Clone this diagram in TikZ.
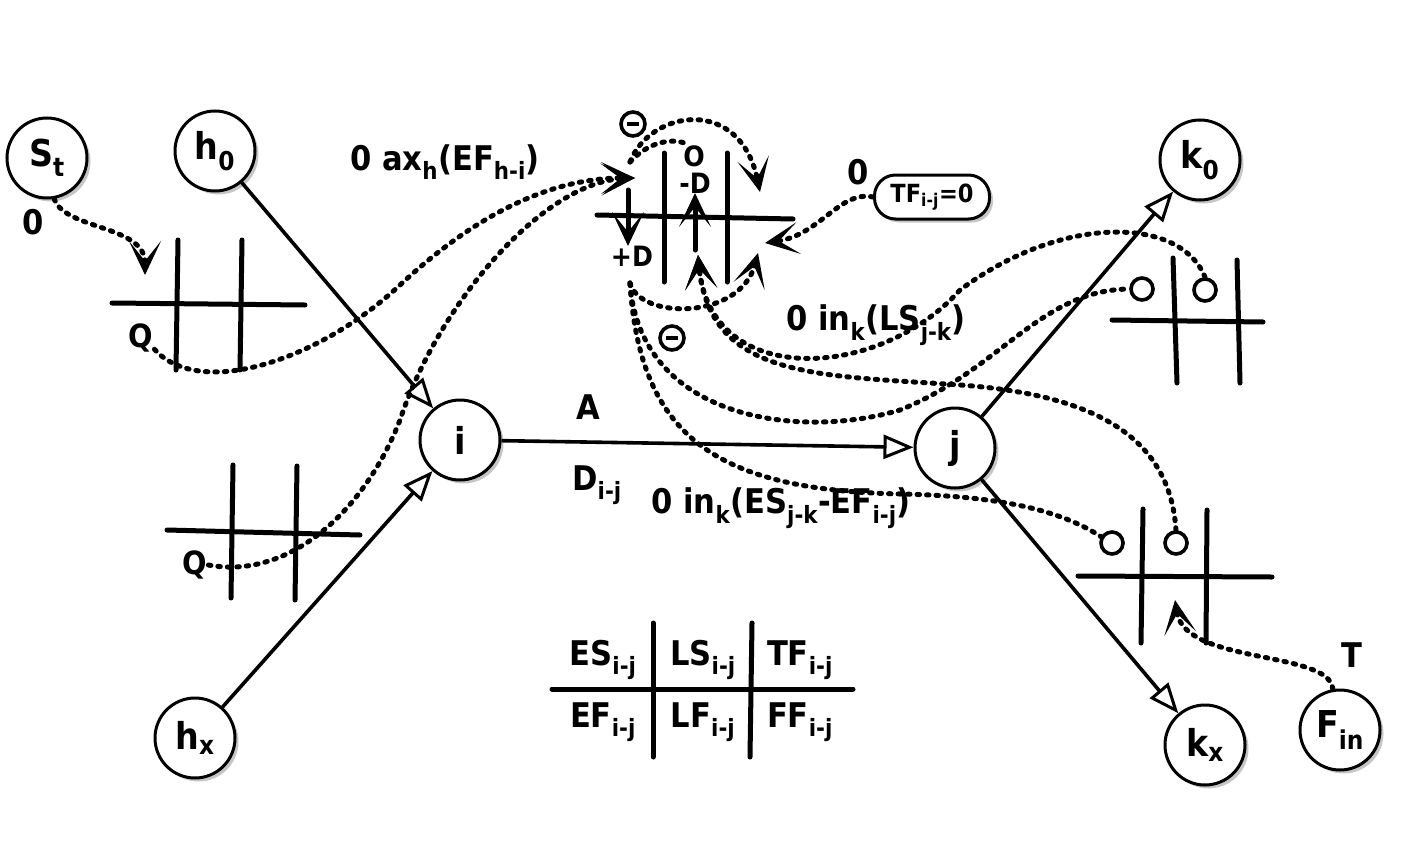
\documentclass[tikz,border=0pt]{standalone}
\usepackage{fontspec}
\setmainfont{DejaVu Sans Condensed}[BoldFont={DejaVu Sans Condensed Bold}]
\usepackage{tikz}
\usetikzlibrary{arrows.meta,shadows}

\newcommand{\sub}[1]{\textsubscript{#1}}

\begin{document}
\begin{tikzpicture}[x=1pt, y=-1pt,
  vertex/.style={circle, draw, line width=3pt, fill=white, minimum size=80pt, inner sep=0pt,
    drop shadow={shadow xshift=3.5pt, shadow yshift=-3.5pt, fill=gray!45, opacity=1},
    font=\fontsize{37}{40}\selectfont\bfseries},
  edgeline/.style={line width=3.6pt, -{Triangle[open, length=30pt, width=24pt, line width=3pt]}},
  flowline/.style={line width=5pt, dash pattern=on 2.5pt off 7pt, line cap=round},
  barbtip/.style={-{Stealth[open, length=34pt, width=32pt, inset=20pt, line width=3.4pt]}},
  tabline/.style={line width=5pt, line cap=round},
  txt/.style={font=\fontsize{34}{38}\selectfont\bfseries, inner sep=1pt},
  cellfont/.style={font=\fontsize{28}{32}\selectfont\bfseries, inner sep=1pt},
  slot/.style={circle, draw, line width=3.6pt, minimum size=22pt, inner sep=0pt},
  negsign/.style={circle, draw, line width=3.6pt, minimum size=24pt, inner sep=0pt,
    path picture={\draw[line width=4.5pt] (path picture bounding box.center) +(-6pt,0) -- +(6pt,0);}}
]
\useasboundingbox (0,0) rectangle (1418,843);

% Activities
\node[vertex] (St) at (47,158) {S\sub{t}};
\node[vertex] (h0) at (215,151) {h\sub{0}};
\node[vertex] (hx) at (195,738) {h\sub{x}};
\node[vertex] (i) at (460,440) {i};
\node[vertex] (j) at (955,448) {j};
\node[vertex] (k0) at (1200,160) {k\sub{0}};
\node[vertex] (kx) at (1205,745) {k\sub{x}};
\node[vertex] (Fin) at (1340,730) {F\sub{in}};

% Links
\draw[edgeline] (h0) -- (i);
\draw[edgeline] (hx) -- (i);
\draw[edgeline] (i) -- (j);
\draw[edgeline] (j) -- (k0);
\draw[edgeline] (j) -- (kx);
\node[txt] (A) at (588,407) {A};
\node[txt] (Dij) at (597,485) {D\sub{i-j}};

% Table of h0 (top left)
\draw[tabline] (112,303) -- (305,305);
\draw[tabline] (178,240) -- (176,370);
\draw[tabline] (242,240) -- (240,370);
\node[txt, font=\fontsize{32}{36}\selectfont\bfseries] (qa) at (141,338) {Q};
\node[txt] (zst) at (33,222) {0};
\coordinate (ya) at (145,275);

% Table of hx (bottom left)
\draw[tabline] (167,530) -- (360,535);
\draw[tabline] (233,465) -- (231,598);
\draw[tabline] (297,466) -- (295,600);
\node[txt, font=\fontsize{32}{36}\selectfont\bfseries] (qb) at (195,565) {Q};

% Table of i-j (middle)
\draw[tabline] (597,215) -- (793,219);
\draw[tabline] (664,153) -- (664,282);
\draw[tabline] (727,153) -- (727,282);
\node[cellfont] (o) at (694,156) {O};
\node[cellfont] (mD) at (695,183) {-D};
\node[cellfont] (pD) at (632,256) {+D};
\node[negsign] (m1) at (633,124) {};
\node[negsign] (m2) at (672,338) {};
\draw[tabline, barbtip] (628,190) -- (628,246);
\draw[tabline, barbtip] (695,250) -- (695,193);
\coordinate (tipL) at (635,178);
\coordinate (tipY) at (760,192);
\coordinate (tipT) at (765,243);
\coordinate (tipA) at (698,255);
\coordinate (tipB) at (758,253);
\coordinate (mtop) at (630,162);
\coordinate (dstart) at (630,283);

% Total float box
\node[txt, font=\fontsize{25}{29}\selectfont\bfseries, draw, line width=3pt, fill=white,
  rounded corners=21pt, minimum width=115pt, minimum height=44pt,
  drop shadow={shadow xshift=3.5pt, shadow yshift=-3.5pt, fill=gray!45, opacity=1}]
  (tf) at (932,197) {TF\sub{i-j}=0};
\node[txt] (ztf) at (858,172) {0};

% Table of k0 (top right)
\draw[tabline] (1112,320) -- (1263,322);
\draw[tabline] (1173,258) -- (1177,383);
\draw[tabline] (1237,260) -- (1240,383);
\node[slot] (oa) at (1142,289) {};
\node[slot] (ob) at (1205,290) {};

% Table of kx (bottom right)
\draw[tabline] (1078,576) -- (1272,577);
\draw[tabline] (1143,509) -- (1141,643);
\draw[tabline] (1207,510) -- (1206,643);
\node[slot] (oc) at (1112,543) {};
\node[slot] (od) at (1176,543) {};
\coordinate (tipF) at (1175,600);
\node[txt] (T) at (1352,655) {T};

% Legend table
\draw[tabline] (552,689) -- (853,689);
\draw[tabline] (653,623) -- (653,757);
\draw[tabline] (752,623) -- (750,757);
\node[txt] (es) at (603,660) {ES\sub{i-j}};
\node[txt] (ls) at (703,660) {LS\sub{i-j}};
\node[txt] (tfl) at (800,660) {TF\sub{i-j}};
\node[txt] (ef) at (603,722) {EF\sub{i-j}};
\node[txt] (lf) at (703,722) {LF\sub{i-j}};
\node[txt] (ff) at (800,722) {FF\sub{i-j}};

% Labels of the passes
\node[txt] (ax) at (445,162) {0 ax\sub{h}(EF\sub{h-i})};
\node[txt] (inLS) at (876,325) {0 in\sub{k}(LS\sub{j-k})};
\node[txt] (inES) at (781,508) {0 in\sub{k}(ES\sub{j-k}-EF\sub{i-j})};

% Forward pass
\draw[flowline, barbtip] (St.-80) .. controls (65,230) and (145,225) .. (ya);
\draw[flowline, barbtip] (qa.-40) .. controls (200,400) and (320,360) .. (400,285)
    .. controls (470,220) and (545,178) .. (tipL);
\draw[flowline, barbtip] (qb.east) .. controls (290,580) and (365,510) .. (400,420)
    .. controls (440,300) and (545,182) .. (tipL);
\draw[flowline] (mtop) .. controls (650,140) and (675,138) .. (o.120);
\draw[flowline, barbtip] (mtop) .. controls (650,110) and (740,95) .. (tipY);
\draw[flowline, barbtip] (tf.west) .. controls (840,190) and (820,235) .. (tipT);
\draw[flowline, barbtip] (dstart) .. controls (640,320) and (740,320) .. (tipB);
\draw[flowline] (dstart) .. controls (640,420) and (800,440) .. (900,410)
    .. controls (1000,370) and (1040,290) .. (oa.west);
\draw[flowline] (dstart) .. controls (640,440) and (720,490) .. (900,494)
    .. controls (1000,496) and (1060,510) .. (oc.150);

% Backward pass
\draw[flowline, barbtip] (ob.north) .. controls (1180,215) and (1060,215) .. (960,290)
    .. controls (880,380) and (710,390) .. (tipA);
\draw[flowline, barbtip] (od.north) .. controls (1170,440) and (1100,395) .. (960,385)
    .. controls (820,375) and (710,380) .. (tipA);
\draw[flowline, barbtip] (Fin.100) .. controls (1330,650) and (1185,665) .. (tipF);
\end{tikzpicture}
\end{document}
